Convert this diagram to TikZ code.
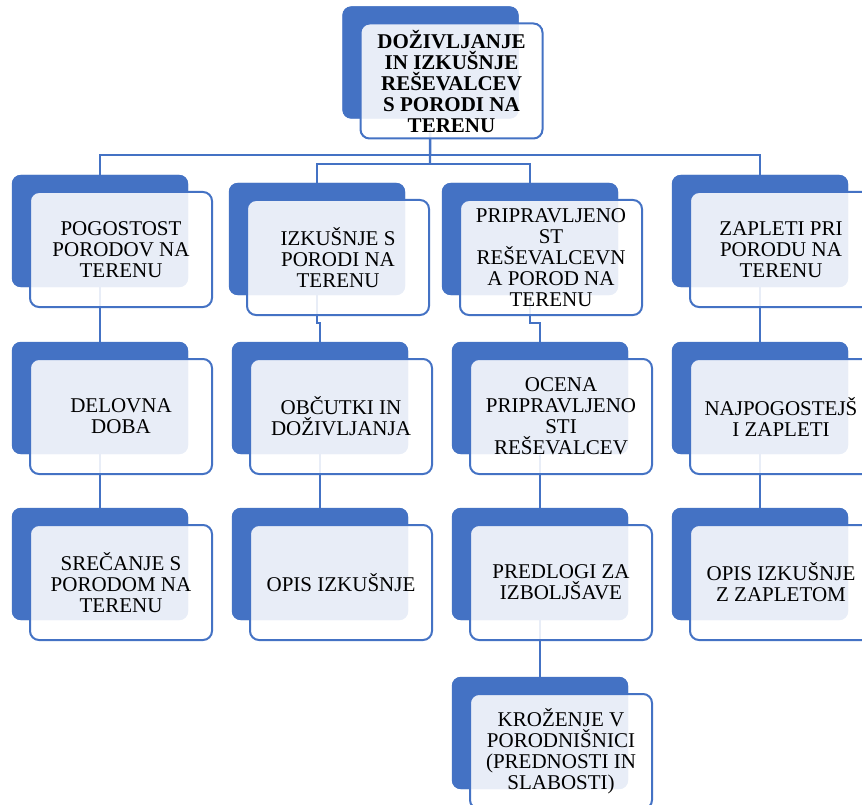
\documentclass[tikz,border=0pt]{standalone}
\usepackage{fontspec}
\setmainfont{Liberation Serif}
\definecolor{accent}{HTML}{4472C4}
\tikzset{
  backbox/.style={rectangle, rounded corners=9pt, fill=accent, draw=none,
    minimum width=176pt, minimum height=112pt, inner sep=0pt},
  frontbox/.style={rectangle, rounded corners=9pt, fill=white, fill opacity=0.88,
    text opacity=1, draw=accent, draw opacity=1, line width=2pt,
    minimum width=182pt, minimum height=115pt, inner sep=0pt, align=center,
    font=\fontsize{21}{21}\selectfont},
  link/.style={draw=accent, line width=2.4pt},
}
\begin{document}
\begin{tikzpicture}[x=1pt,y=-1pt]
\clip (0,0) rectangle (862,805);
\fill[white] (0,0) rectangle (862,805);
% back boxes
\node[backbox] (T) at (430.5,62.5) {};
\node[backbox] (A1) at (100,231) {};
\node[backbox] (B1) at (317,239) {};
\node[backbox] (C1) at (530,239) {};
\node[backbox] (D1) at (760,231) {};
\node[backbox] (A2) at (100,398) {};
\node[backbox] (B2) at (320,398) {};
\node[backbox] (C2) at (540,398) {};
\node[backbox] (D2) at (760,398) {};
\node[backbox] (A3) at (100,564) {};
\node[backbox] (B3) at (320,564) {};
\node[backbox] (C3) at (540,564) {};
\node[backbox] (D3) at (760,564) {};
\node[backbox] (C4) at (540,733) {};
% connectors
\coordinate (h1) at (430,155);
\coordinate (h2) at (430,164);
\coordinate (jb) at (320,323);
\coordinate (jc) at (540,323);
\draw[link] (T.center) -- (h2);
\draw[link] (A1.center) |- (h1) -| (D1.center);
\draw[link] (B1.center) |- (h2) -| (C1.center);
\draw[link] (A1.center) -- (A2.center) -- (A3.center);
\draw[link] (B1.center) |- (jb) -- (B2.center) -- (B3.center);
\draw[link] (C1.center) |- (jc) -- (C2.center) -- (C3.center) -- (C4.center);
\draw[link] (D1.center) -- (D2.center) -- (D3.center);
% redraw back boxes above connectors
\foreach \n in {T,A1,B1,C1,D1,A2,B2,C2,D2,A3,B3,C3,D3,C4}
  \fill[accent, rounded corners=9pt] (\n.south west) rectangle (\n.north east);
% front boxes
\node[frontbox, font=\fontsize{21}{21}\selectfont\bfseries] (Tf) at ([shift={(21,18.5)}]T.center) {DOŽIVLJANJE\\IN IZKUŠNJE\\REŠEVALCEV\\S PORODI NA\\TERENU};
\node[frontbox] (A1f) at ([shift={(21,18.5)}]A1.center) {POGOSTOST\\PORODOV NA\\TERENU};
\node[frontbox] (B1f) at ([shift={(21,18.5)}]B1.center) {IZKUŠNJE S\\PORODI NA\\TERENU};
\node[frontbox] (C1f) at ([shift={(21,18.5)}]C1.center) {PRIPRAVLJENO\\ST\\REŠEVALCEVN\\A POROD NA\\TERENU};
\node[frontbox] (D1f) at ([shift={(21,18.5)}]D1.center) {ZAPLETI PRI\\PORODU NA\\TERENU};
\node[frontbox] (A2f) at ([shift={(21,18.5)}]A2.center) {DELOVNA\\DOBA};
\node[frontbox] (B2f) at ([shift={(21,18.5)}]B2.center) {OBČUTKI IN\\DOŽIVLJANJA};
\node[frontbox] (C2f) at ([shift={(21,18.5)}]C2.center) {OCENA\\PRIPRAVLJENO\\STI\\REŠEVALCEV};
\node[frontbox] (D2f) at ([shift={(21,18.5)}]D2.center) {NAJPOGOSTEJŠ\\I ZAPLETI};
\node[frontbox] (A3f) at ([shift={(21,18.5)}]A3.center) {SREČANJE S\\PORODOM NA\\TERENU};
\node[frontbox] (B3f) at ([shift={(21,18.5)}]B3.center) {OPIS IZKUŠNJE};
\node[frontbox] (C3f) at ([shift={(21,18.5)}]C3.center) {PREDLOGI ZA\\IZBOLJŠAVE};
\node[frontbox] (D3f) at ([shift={(21,18.5)}]D3.center) {OPIS IZKUŠNJE\\Z ZAPLETOM};
\node[frontbox] (C4f) at ([shift={(21,18.5)}]C4.center) {KROŽENJE V\\PORODNIŠNICI\\(PREDNOSTI IN\\SLABOSTI)};
\end{tikzpicture}
\end{document}
